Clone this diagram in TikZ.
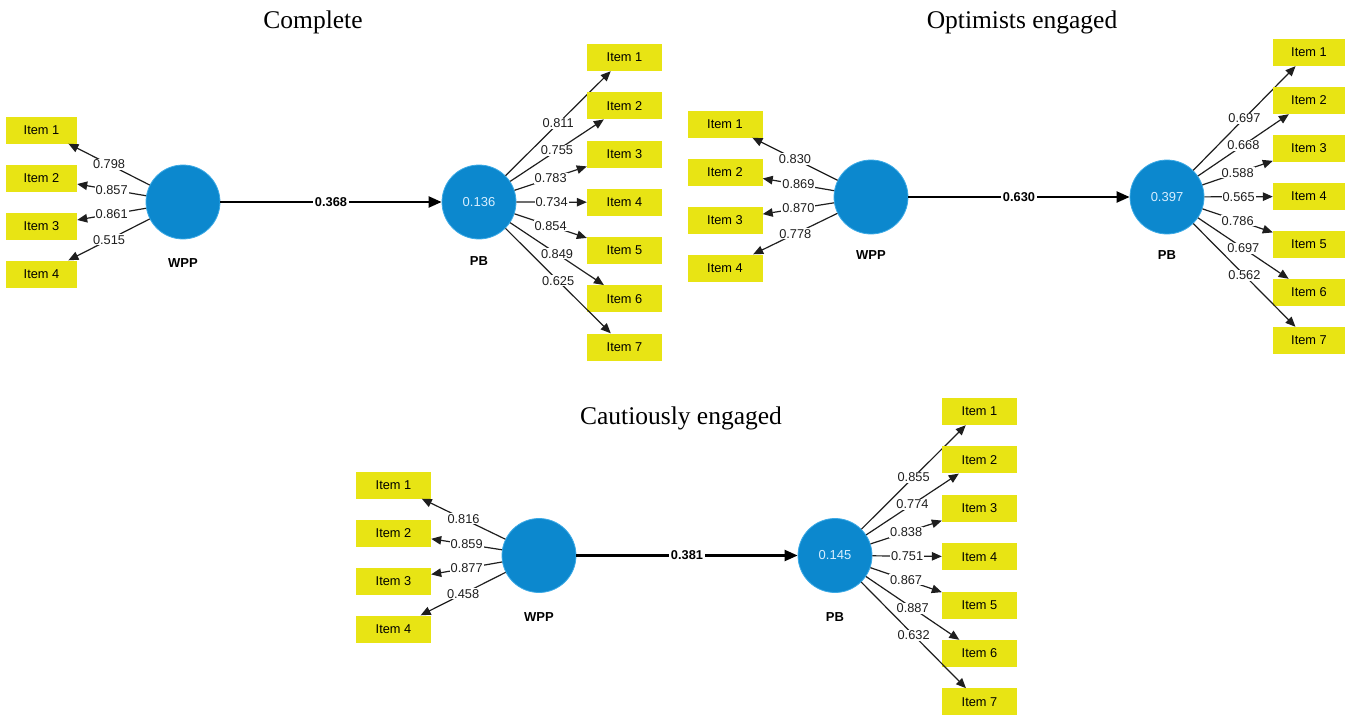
\documentclass[tikz,border=0pt]{standalone}
\usepackage{fontspec}
\setmainfont{Liberation Serif}
\setsansfont{Liberation Sans}
\usetikzlibrary{arrows.meta}
\definecolor{itemyellow}{RGB}{232,228,20}
\definecolor{lvblue}{RGB}{12,136,206}
\definecolor{lvedge}{RGB}{60,170,230}
\definecolor{lvtext}{RGB}{215,238,255}
\definecolor{lineclr}{RGB}{30,30,30}
\tikzset{
  item/.style={rectangle, fill=itemyellow, minimum width=75, minimum height=27, inner sep=0pt,
    font=\sffamily\fontsize{12.8}{14}\selectfont},
  lv/.style={circle, fill=lvblue, draw=lvedge, line width=0.8, minimum size=74, inner sep=0pt,
    text=lvtext, font=\sffamily\fontsize{13}{15}\selectfont},
  lvname/.style={font=\sffamily\bfseries\fontsize{13}{15}\selectfont},
  load/.style={draw=lineclr, line width=1.2, -{Triangle[length=10,width=8.5]}},
  mainpath/.style={draw=black, line width=2.2, -{Triangle[length=13,width=11]}},
  lab/.style={fill=white, inner sep=1pt, text=lineclr, font=\sffamily\fontsize{12.8}{14}\selectfont},
  mainlab/.style={fill=white, inner sep=2pt, font=\sffamily\bfseries\fontsize{12.8}{14}\selectfont},
  paneltitle/.style={font=\fontsize{25.5}{30}\selectfont}
}
\begin{document}
\begin{tikzpicture}[x=1pt,y=-1pt]
\useasboundingbox (0,0) rectangle (1346,715);

% ---------------- Complete ----------------
\node[paneltitle] (t1) at (313,22) {Complete};
\node[lv] (cw) at (183,202) {};
\node[lv] (cp) at (479,202) {0.136};
\node[lvname] (cwn) at (183,263) {WPP};
\node[lvname] (cpn) at (479,261) {PB};
\draw[mainpath] (cw) -- node[mainlab]{0.368} (cp);
\foreach \v [count=\k] in {0.798,0.857,0.861,0.515}{
  \node[item, minimum width=71] (cwi\k) at (41.5,{130+48*(\k-1)}) {Item \k};
  \draw[load] (cw) -- node[lab]{\v} (cwi\k);
}
\foreach \v [count=\k] in {0.811,0.755,0.783,0.734,0.854,0.849,0.625}{
  \node[item] (cpi\k) at (624.5,{57.5+48.25*(\k-1)}) {Item \k};
  \draw[load] (cp) -- node[lab]{\v} (cpi\k);
}

% ---------------- Optimists engaged ----------------
\node[paneltitle] (t2) at (1022,22) {Optimists engaged};
\node[lv] (ow) at (871,197) {};
\node[lv] (op) at (1167,197) {0.397};
\node[lvname] (own) at (871,255) {WPP};
\node[lvname] (opn) at (1167,255) {PB};
\draw[mainpath] (ow) -- node[mainlab]{0.630} (op);
\foreach \v [count=\k] in {0.830,0.869,0.870,0.778}{
  \node[item] (owi\k) at (725,{124+48*(\k-1)}) {Item \k};
  \draw[load] (ow) -- node[lab]{\v} (owi\k);
}
\foreach \v [count=\k] in {0.697,0.668,0.588,0.565,0.786,0.697,0.562}{
  \node[item, minimum width=72] (opi\k) at (1309,{52.5+48*(\k-1)}) {Item \k};
  \draw[load] (op) -- node[lab]{\v} (opi\k);
}

% ---------------- Cautiously engaged ----------------
\node[paneltitle] (t3) at (681,418) {Cautiously engaged};
\node[lv] (kw) at (539,555.5) {};
\node[lv] (kp) at (835,555.5) {0.145};
\node[lvname] (kwn) at (539,617) {WPP};
\node[lvname] (kpn) at (835,617) {PB};
\draw[mainpath] (kw) -- node[mainlab]{0.381} (kp);
\foreach \v [count=\k] in {0.816,0.859,0.877,0.458}{
  \node[item] (kwi\k) at (393.5,{485+48*(\k-1)}) {Item \k};
  \draw[load] (kw) -- node[lab]{\v} (kwi\k);
}
\foreach \v [count=\k] in {0.855,0.774,0.838,0.751,0.867,0.887,0.632}{
  \node[item] (kpi\k) at (979.5,{411.5+48.4*(\k-1)}) {Item \k};
  \draw[load] (kp) -- node[lab]{\v} (kpi\k);
}
\end{tikzpicture}
\end{document}
